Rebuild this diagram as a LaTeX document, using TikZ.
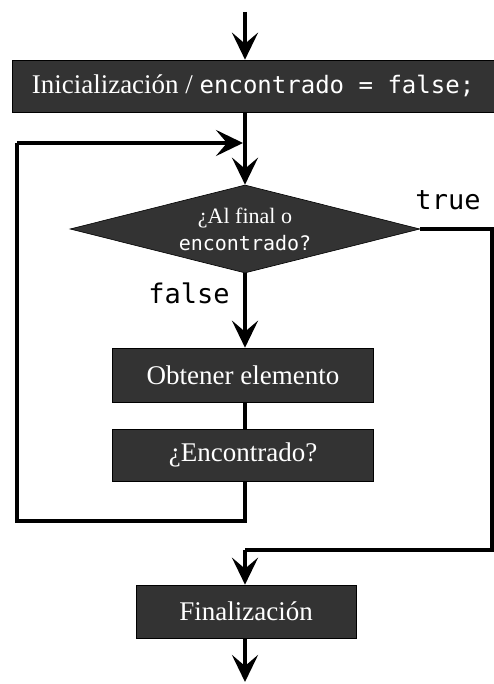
\documentclass[tikz,border=0pt]{standalone}
\usepackage{fontspec}
\setmainfont{Liberation Serif}
\setmonofont{DejaVu Sans Mono}
\usetikzlibrary{arrows.meta,shapes.geometric}

\tikzset{
	paso/.style={draw=black, line width=0.6pt, fill=black!80, text=white, inner sep=0pt, font=\fontsize{27}{30}\selectfont},
	decision/.style={diamond, draw=black, line width=0.6pt, fill=black!80, text=white, inner sep=0pt, aspect=3.98, minimum width=350pt, minimum height=88pt, align=center, font=\fontsize{22}{27}\selectfont},
	flujo/.style={line width=4pt, -{Stealth[length=27pt, width=26pt, inset=11pt]}},
	linea/.style={line width=4pt},
	etiqueta/.style={font=\ttfamily\fontsize{27}{30}\selectfont}
}

\begin{document}
\begin{tikzpicture}[x=1pt, y=1pt]
			%%%%% START %%%%%
			
			\useasboundingbox (0, 0) rectangle (494, 684);
			
			\coordinate (entrada) at (245, 672);
			\node[paso, minimum width=482pt, minimum height=52pt] (init) at (253, 598) {Inicialización / {\fontsize{24}{30}\selectfont\texttt{encontrado = false;}}};
			\coordinate (union) at (245, 541);
			
			\node[decision] (cond) at (245, 455) {¿Al final o\\{\fontsize{20}{27}\selectfont\texttt{encontrado?}}};
			\node[etiqueta] (true) at (448, 484) {true};
			\node[etiqueta] (false) at (189, 391) {false};
			
			\node[paso, minimum width=261pt, minimum height=54pt] (obtener) at (243, 309) {Obtener elemento};
			\node[paso, minimum width=261pt, minimum height=52pt] (encontrado) at (243, 229) {¿Encontrado?};
			
			\node[paso, minimum width=220pt, minimum height=53pt] (fin) at (246, 72.5) {Finalización};
			\coordinate (salida) at (245, 2);
			
			% flujo principal
			\draw[flujo] (entrada) -- (init.north -| entrada);
			\draw[linea] (init.south -| union) -- (union);
			\draw[flujo] (union) -- (cond.north);
			\draw[flujo] (cond.south) -- (obtener.north -| cond.south);
			\draw[linea] (obtener.south -| cond.south) -- (encontrado.north -| cond.south);
			
			% vuelta del bucle
			\coordinate (abajo) at (245, 163);
			\coordinate (izq) at (17, 163);
			\coordinate (izqarriba) at (17, 541);
			\draw[linea] (encontrado.south -| abajo) -- (abajo) -- (izq) -- (izqarriba);
			\draw[flujo] (izqarriba) -- ([xshift=-2pt]union);
			
			% salida por true
			\coordinate (der) at (492, 455);
			\coordinate (derabajo) at (492, 134);
			\coordinate (medio) at (245, 134);
			\draw[linea] (cond.east) -- (der) -- (derabajo) -- (medio);
			\draw[flujo] (medio) -- (fin.north -| medio);
			
			\draw[flujo] (fin.south -| salida) -- (salida);
			
			%%%%% END %%%%%
		\end{tikzpicture}
\end{document}
